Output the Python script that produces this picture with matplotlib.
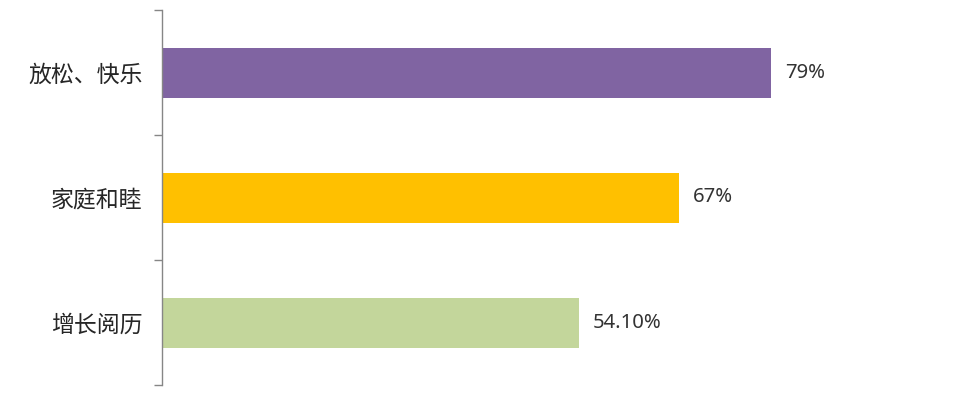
import matplotlib.pyplot as plt
from matplotlib.ticker import FixedLocator

plt.rcParams['font.family'] = ['Noto Sans CJK SC', 'DejaVu Sans']

# data (top to bottom)
categories = ["放松、快乐", "家庭和睦", "增长阅历"]
values = [79, 67, 54.1]
value_labels = ["79%", "67%", "54.10%"]
colors = ["#8064A2", "#FFC000", "#C3D69B"]

fig = plt.figure(figsize=(9.6, 3.93), dpi=100)
ax = fig.add_axes([162 / 960, 8 / 393, (933 - 162) / 960, 375 / 393])

pos = list(range(len(categories)))
bars = ax.barh(pos, values, height=0.4, color=colors, edgecolor="none")

for bar, lab in zip(bars, value_labels):
    ax.text(bar.get_width() + 1.8, bar.get_y() + bar.get_height() / 2, lab,
            va="center", ha="left", fontsize=14.6, color="#333333",
            family=["Noto Sans", "DejaVu Sans"], fontstretch="normal")

ax.set_xlim(0, 100)
ax.set_ylim(len(categories) - 0.5, -0.5)

# boundaries get tick marks, centres get the labels
ax.yaxis.set_major_locator(FixedLocator([i - 0.5 for i in range(len(categories) + 1)]))
ax.yaxis.set_minor_locator(FixedLocator(pos))
ax.set_yticklabels([], minor=False)
ax.set_yticklabels(categories, minor=True, fontsize=16.5, color="#262626")
ax.tick_params(axis="y", which="major", length=6, width=1, color="#868686", direction="out")
ax.tick_params(axis="y", which="minor", length=0, pad=14)
ax.set_xticks([])

for s in ["top", "right", "bottom"]:
    ax.spines[s].set_visible(False)
ax.spines["left"].set_color("#868686")
ax.spines["left"].set_linewidth(1)

plt.savefig("out.png", dpi=100)
